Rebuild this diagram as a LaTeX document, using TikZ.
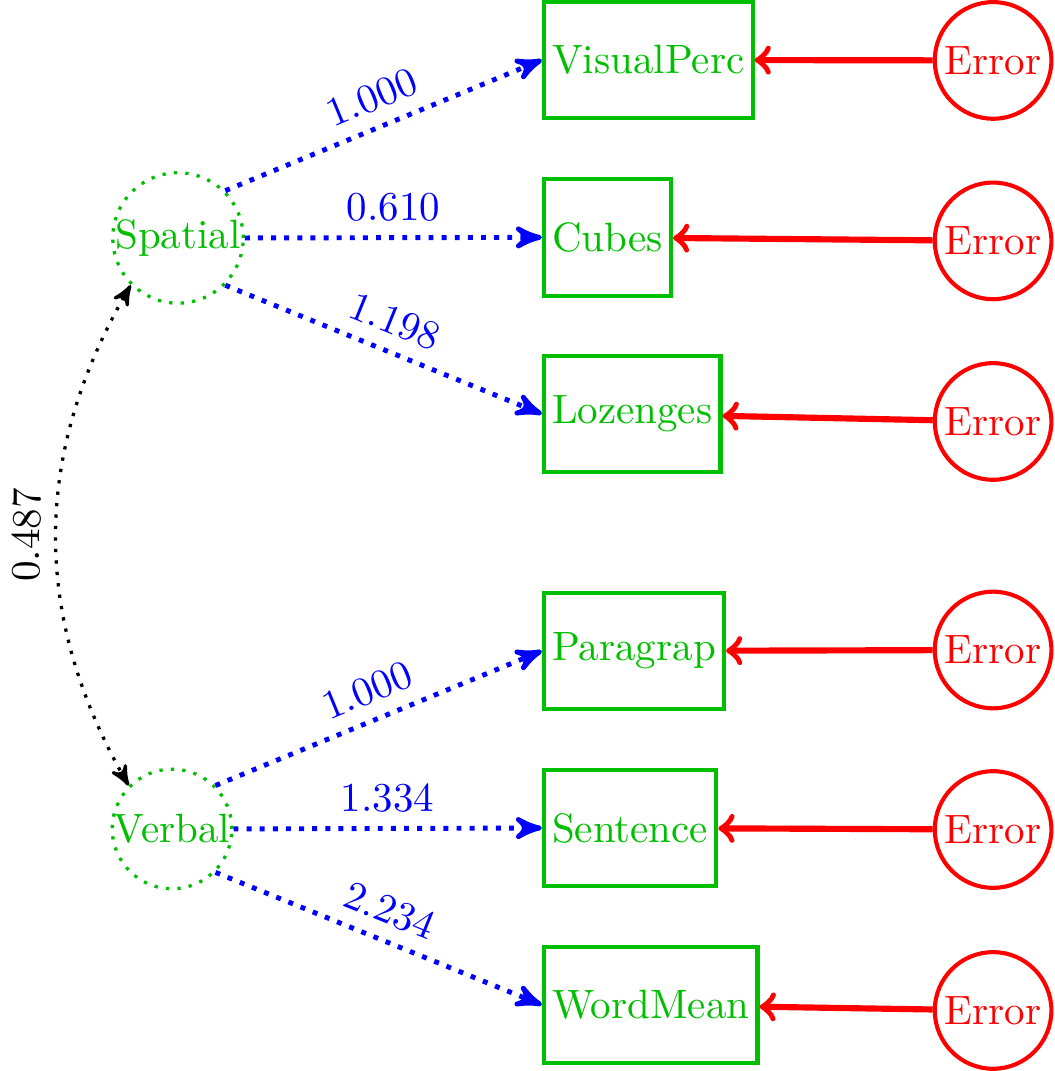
\documentclass[tikz,border=0pt]{standalone}
\usetikzlibrary{arrows}

\begin{document}
\begin{tikzpicture}[
	latent/.style={circle, draw=green!75!black, thick, dotted, text=green!75!black, inner sep=0pt},
	manifest/.style={rectangle, draw=green!75!black, line width=1pt, text=green!75!black, minimum height=1cm, inner sep=2pt, anchor=west},
	errnode/.style={circle, draw=red, line width=1pt, text=red, minimum size=1cm, inner sep=0pt},
	loading/.style={-stealth', very thick, dotted, blue},
	errpath/.style={->, line width=1.5pt, red},
	covpath/.style={stealth'-stealth', thick, dotted}
	]
		%%%%% START %%%%%
		
		\useasboundingbox (0, 0) rectangle (9.036, 9.181);
		
		\node[latent] (Spatial) at (1.526, 7.141) {Spatial};
		\node[latent] (Verbal) at (1.475, 2.075) {Verbal};
		
		\node[manifest] (VisualPerc) at (4.645, 8.667) {VisualPerc};
		\node[manifest] (Cubes) at (4.645, 7.146) {Cubes};
		\node[manifest] (Lozenges) at (4.645, 5.632) {Lozenges};
		\node[manifest] (Paragrap) at (4.645, 3.601) {Paragrap};
		\node[manifest] (Sentence) at (4.645, 2.083) {Sentence};
		\node[manifest] (WordMean) at (4.645, 0.566) {WordMean};
		
		\node[errnode] (eVisualPerc) at (8.513, 8.663) {Error};
		\node[errnode] (eCubes) at (8.513, 7.116) {Error};
		\node[errnode] (eLozenges) at (8.513, 5.568) {Error};
		\node[errnode] (eParagrap) at (8.513, 3.609) {Error};
		\node[errnode] (eSentence) at (8.513, 2.070) {Error};
		\node[errnode] (eWordMean) at (8.513, 0.519) {Error};
		
		\draw[loading] (Spatial.north east) -- node[sloped, above] {1.000} (VisualPerc.west);
		\draw[loading] (Spatial.east) -- node[sloped, above] {0.610} (Cubes.west);
		\draw[loading] (Spatial.south east) -- node[sloped, above] {1.198} (Lozenges.west);
		
		\draw[loading] (Verbal.north east) -- node[sloped, above] {1.000} (Paragrap.west);
		\draw[loading] (Verbal.east) -- node[sloped, above] {1.334} (Sentence.west);
		\draw[loading] (Verbal.south east) -- node[sloped, above] {2.234} (WordMean.west);
		
		\foreach \v in {VisualPerc, Cubes, Lozenges, Paragrap, Sentence, WordMean}
			\draw[errpath] (e\v) -- (\v);
		
		\draw[covpath] (Verbal.north west) to[bend left] node[sloped, above] {0.487} (Spatial.south west);
		
		%%%%% END %%%%%
	\end{tikzpicture}
\end{document}
